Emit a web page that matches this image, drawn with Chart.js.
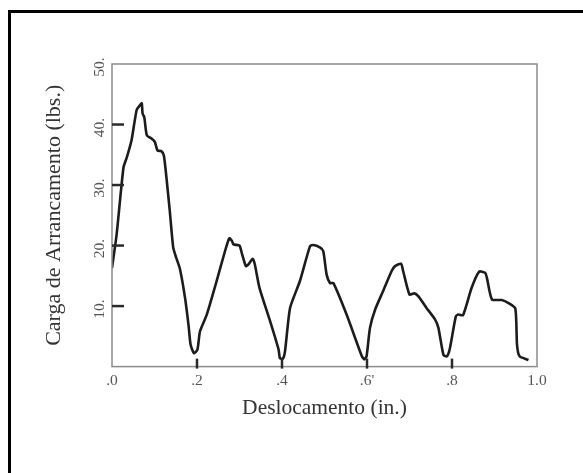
<!DOCTYPE html>
<html lang="pt-br">

<head>
  <title>Carga de Arrancamento</title>
  <meta charset="UTF-8">
  <script src="https://cdn.jsdelivr.net/npm/chart.js"></script>
  <style>
    html, body { margin: 0; padding: 0; background: #fff; }
    .moldura {
      position: absolute; left: 8px; top: 10px;
      width: 620px; height: 520px;
      border-left: 3px solid #000; border-top: 3px solid #000;
    }
    .container { position: absolute; left: 0; top: 0; width: 583px; height: 473px; }
  </style>
</head>

<body>
  <div class="moldura"></div>
  <div class="container"><canvas id="grafico"></canvas></div>

<script>
  // deslocamento (in.)
  const deslocamento = [
    0.000, 0.011, 0.027, 0.035, 0.046, 0.058, 0.066, 0.070, 0.072, 0.076,
    0.082, 0.093, 0.101, 0.107, 0.116, 0.122, 0.128, 0.136, 0.144, 0.151,
    0.160, 0.172, 0.180, 0.185, 0.193, 0.201, 0.207, 0.223, 0.246, 0.266,
    0.276, 0.282, 0.286, 0.300, 0.306, 0.315, 0.321, 0.331, 0.336, 0.347,
    0.372, 0.392, 0.395, 0.402, 0.407, 0.419, 0.442, 0.466, 0.474, 0.489,
    0.497, 0.505, 0.513, 0.521, 0.552, 0.588, 0.594, 0.599, 0.607, 0.619,
    0.638, 0.658, 0.666, 0.680, 0.685, 0.700, 0.711, 0.721, 0.740, 0.760,
    0.768, 0.780, 0.788, 0.795, 0.809, 0.815, 0.826, 0.846, 0.864, 0.878,
    0.882, 0.894, 0.917, 0.933, 0.949, 0.953, 0.959, 0.980
  ];
  // carga de arrancamento (lbs.)
  const carga = [
    16.3, 21.9, 32.9, 34.6, 37.4, 42.4, 43.2, 43.5, 41.8, 41.2,
    38.2, 37.7, 37.1, 35.7, 35.6, 34.9, 31.3, 25.7, 19.7, 18.0,
    16.1, 11.3, 6.9, 3.6, 2.2, 2.8, 5.8, 8.6, 14.1, 19.1,
    21.2, 20.8, 20.2, 20.0, 18.6, 16.6, 16.9, 17.8, 16.9, 13.0,
    7.5, 2.8, 1.4, 1.3, 2.5, 9.7, 14.1, 19.9, 20.1, 19.7,
    19.1, 15.2, 13.8, 13.8, 8.6, 1.7, 1.2, 1.7, 6.4, 9.4,
    12.5, 15.8, 16.6, 17.0, 15.8, 11.9, 12.1, 11.6, 9.7, 7.8,
    6.4, 1.9, 1.7, 3.0, 8.3, 8.6, 8.5, 13.0, 15.7, 15.5,
    14.7, 11.1, 11.0, 10.5, 9.6, 3.6, 1.7, 1.1
  ];

  const xTicks = ['.0', '.2', '.4', '.6\'', '.8', '1.0'];
  const xTicksMarcados = [0.2, 0.4, 0.6, 0.8];
  const yTicksValores = [10, 20, 30, 40, 50];
  const yTicks = ['10.', '20.', '30.', '40.', '50.'];
  const yTicksMarcados = [10, 20, 30, 40];

  const fonte = 'Liberation Serif, Times New Roman, serif';

  let pontos = [];
  for (let i = 0; i < deslocamento.length; i++) {
    pontos.push({ x: deslocamento[i], y: carga[i] });
  }

  // moldura do gráfico, marcas internas e rótulos verticais do eixo y
  const extras = {
    id: 'extras',
    afterDraw(chart) {
      const ctx = chart.ctx;
      const a = chart.chartArea;
      const sx = chart.scales.x;
      const sy = chart.scales.y;
      ctx.save();
      ctx.strokeStyle = '#8c8c8c';
      ctx.lineWidth = 1.5;
      ctx.strokeRect(a.left, a.top, a.right - a.left, a.bottom - a.top);

      ctx.strokeStyle = '#2a2a2a';
      ctx.lineWidth = 2.5;
      yTicksMarcados.forEach(v => {
        const py = sy.getPixelForValue(v);
        ctx.beginPath();
        ctx.moveTo(a.left, py);
        ctx.lineTo(a.left + 12, py);
        ctx.stroke();
      });
      xTicksMarcados.forEach(v => {
        const px = sx.getPixelForValue(v);
        ctx.beginPath();
        ctx.moveTo(px, a.bottom + 2);
        ctx.lineTo(px, a.bottom - 8);
        ctx.stroke();
      });

      ctx.fillStyle = '#555';
      ctx.font = '15.5px ' + fonte;
      ctx.textAlign = 'center';
      ctx.textBaseline = 'middle';
      yTicksValores.forEach((v, i) => {
        const py = sy.getPixelForValue(v);
        ctx.save();
        ctx.translate(a.left - 12, py + 3);
        ctx.rotate(-Math.PI / 2);
        ctx.fillText(yTicks[i], 0, 0);
        ctx.restore();
      });
      ctx.restore();
    }
  };

  const config = {
    type: 'line',
    data: {
      datasets: [{
        label: 'Carga de Arrancamento',
        data: pontos,
        borderColor: '#1c1c1c',
        borderWidth: 2.6,
        pointRadius: 0,
        tension: 0.2,
        fill: false
      }]
    },
    options: {
      responsive: true,
      maintainAspectRatio: false,
      animation: false,
      layout: { padding: { left: 41, top: 64, right: 46, bottom: 52 } },
      plugins: {
        legend: { display: false },
        tooltip: { enabled: false }
      },
      scales: {
        x: {
          type: 'linear',
          min: 0,
          max: 1,
          grid: { display: false, drawTicks: false },
          border: { display: false },
          ticks: {
            stepSize: 0.2,
            autoSkip: false,
            maxRotation: 0,
            padding: 5,
            color: '#555',
            font: { family: fonte, size: 15.5 },
            callback: function (valor, indice) { return xTicks[indice]; }
          },
          title: {
            display: true,
            text: 'Deslocamento (in.)',
            color: '#333',
            font: { family: fonte, size: 21.5 },
            padding: { top: 0, bottom: 0 }
          }
        },
        y: {
          min: 0,
          max: 50,
          grid: { display: false, drawTicks: false },
          border: { display: false },
          ticks: { display: false, stepSize: 10 },
          title: {
            display: true,
            text: 'Carga de Arrancamento (lbs.)',
            color: '#333',
            font: { family: fonte, size: 22 },
            padding: { top: 0, bottom: 44.6 }
          }
        }
      }
    },
    plugins: [extras]
  };

  new Chart(document.getElementById('grafico'), config);
</script>
</body>

</html>
